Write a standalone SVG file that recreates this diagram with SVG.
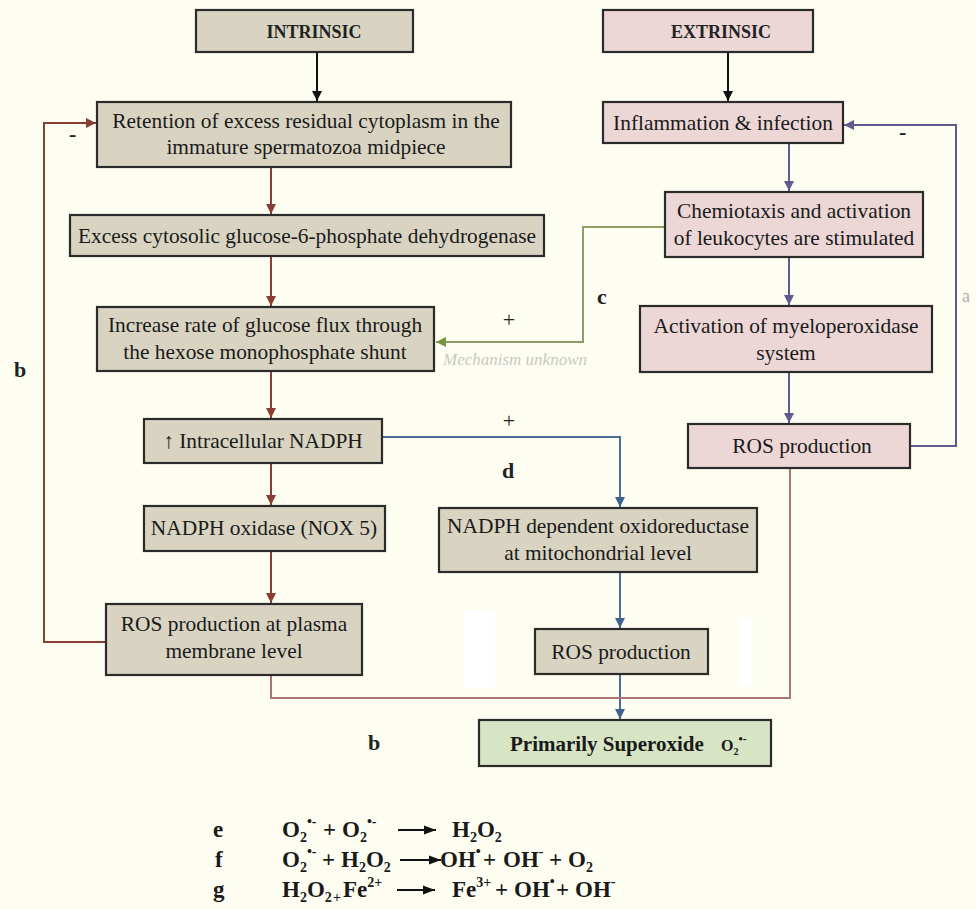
<svg xmlns="http://www.w3.org/2000/svg" width="976" height="909" viewBox="0 0 976 909">
<style>
.bg{fill:#fefdf1}
.box{stroke:#2b2b2b;stroke-width:2.2}
.in{fill:#d8d4c1}
.ex{fill:#ecd6d6}
.gr{fill:#d7e5c5}
.t{font-family:"Liberation Serif","Times New Roman",serif;font-size:21.4px;fill:#1a1a1a;text-anchor:middle}
.h{font-family:"Liberation Serif","Times New Roman",serif;font-size:18px;font-weight:bold;fill:#222;text-anchor:middle}
.lb{font-family:"Liberation Serif","Times New Roman",serif;font-size:22px;font-weight:bold;fill:#222}
.pl{font-family:"Liberation Serif","Times New Roman",serif;font-size:22px;fill:#222;text-anchor:middle}
.eq{font-family:"Liberation Serif","Times New Roman",serif;font-size:23px;font-weight:bold;fill:#1a1a1a}
.s{font-size:14px}
.c{fill:none;stroke-width:2}
.k{stroke:#111}
.r{stroke:#8a3d34}
.p{stroke:#5f5b8e}
.b{stroke:#4b6d98}
.g{stroke:#8e9c66}
.m{stroke:#a97676}
</style>
<defs>
<marker id="ak" viewBox="0 0 10 10" refX="10" refY="5" markerWidth="10" markerHeight="10" markerUnits="userSpaceOnUse" orient="auto"><path d="M0,0L10,5L0,10z" fill="#111"/></marker>
<marker id="ar" viewBox="0 0 10 10" refX="10" refY="5" markerWidth="10" markerHeight="10" markerUnits="userSpaceOnUse" orient="auto"><path d="M0,0L10,5L0,10z" fill="#8a3d34"/></marker>
<marker id="ap" viewBox="0 0 10 10" refX="10" refY="5" markerWidth="10" markerHeight="10" markerUnits="userSpaceOnUse" orient="auto"><path d="M0,0L10,5L0,10z" fill="#5f5b8e"/></marker>
<marker id="ab" viewBox="0 0 10 10" refX="10" refY="5" markerWidth="10" markerHeight="10" markerUnits="userSpaceOnUse" orient="auto"><path d="M0,0L10,5L0,10z" fill="#3f6290"/></marker>
<marker id="ag" viewBox="0 0 10 10" refX="10" refY="5" markerWidth="10" markerHeight="10" markerUnits="userSpaceOnUse" orient="auto"><path d="M0,0L10,5L0,10z" fill="#7c9442"/></marker>
<marker id="aq" viewBox="0 0 12 10" refX="12" refY="5" markerWidth="12" markerHeight="10" markerUnits="userSpaceOnUse" orient="auto"><path d="M0,0.5L12,5L0,9.5z" fill="#111"/></marker>
</defs>
<rect class="bg" x="0" y="0" width="976" height="909"/>
<rect x="463" y="610" width="32" height="78" fill="#ffffff"/>
<rect x="740" y="618" width="13" height="68" fill="#ffffff"/>

<g id="connectors">
<path class="c k" d="M317,52V101" marker-end="url(#ak)"/>
<path class="c k" d="M728,52V101" marker-end="url(#ak)"/>
<path class="c r" d="M271,167V214" marker-end="url(#ar)"/>
<path class="c r" d="M271,256V306" marker-end="url(#ar)"/>
<path class="c r" d="M271,371V418" marker-end="url(#ar)"/>
<path class="c r" d="M271,463V505" marker-end="url(#ar)"/>
<path class="c r" d="M271,551V603" marker-end="url(#ar)"/>
<path class="c r" d="M106,642H44V123H96" marker-end="url(#ar)"/>
<path class="c p" d="M789,143V191" marker-end="url(#ap)"/>
<path class="c p" d="M789,257V305" marker-end="url(#ap)"/>
<path class="c p" d="M789,372V423" marker-end="url(#ap)"/>
<path class="c p" d="M910,446H956V125H844" marker-end="url(#ap)"/>
<path class="c g" d="M665,227H583V342H436" marker-end="url(#ag)"/>
<path class="c b" d="M382,437H620V507" marker-end="url(#ab)"/>
<path class="c b" d="M620,572V628" marker-end="url(#ab)"/>
<path class="c b" d="M620,674V719" marker-end="url(#ab)"/>
<path class="c m" d="M271,675V698H790V468"/>
</g>

<g id="intrinsic"><rect class="box in" x="196" y="10" width="217" height="42"/><text class="h" x="314" y="38">INTRINSIC</text></g>
<g id="extrinsic"><rect class="box ex" x="603" y="10" width="210" height="42"/><text class="h" x="721" y="38">EXTRINSIC</text></g>
<g id="retention"><rect class="box in" x="97" y="102" width="414" height="65"/><text class="t" x="306" y="128">Retention of excess residual cytoplasm in the</text><text class="t" x="306" y="154">immature spermatozoa midpiece</text></g>
<g id="excess"><rect class="box in" x="70" y="215" width="474" height="41"/><text class="t" x="307" y="243">Excess cytosolic glucose-6-phosphate dehydrogenase</text></g>
<g id="increase"><rect class="box in" x="97" y="307" width="337" height="64"/><text class="t" x="265" y="332">Increase rate of glucose flux through</text><text class="t" x="265" y="359">the hexose monophosphate shunt</text></g>
<g id="nadph"><rect class="box in" x="144" y="419" width="238" height="44"/><text class="t" x="263" y="448">↑ Intracellular NADPH</text></g>
<g id="nox"><rect class="box in" x="144" y="506" width="241" height="45"/><text class="t" x="264" y="535">NADPH oxidase (NOX 5)</text></g>
<g id="ros-plasma"><rect class="box in" x="106" y="604" width="256" height="71"/><text class="t" x="234" y="631">ROS production at plasma</text><text class="t" x="234" y="658">membrane level</text></g>
<g id="nadph-dep"><rect class="box in" x="439" y="508" width="318" height="64"/><text class="t" x="598" y="533">NADPH dependent oxidoreductase</text><text class="t" x="598" y="560">at mitochondrial level</text></g>
<g id="ros-mito"><rect class="box in" x="535" y="629" width="173" height="45"/><text class="t" x="621" y="659">ROS production</text></g>
<g id="superoxide"><rect class="box gr" x="479" y="720" width="292" height="46"/><text x="510" y="751" style="font-family:'Liberation Serif',serif;font-size:21px;font-weight:bold;fill:#1a1a1a">Primarily Superoxide</text><text x="721" y="751" style="font-family:'Liberation Serif',serif;font-size:16px;font-weight:bold;fill:#1a1a1a">O<tspan font-size="10" dy="4">2</tspan><tspan font-size="12" dy="-12">•-</tspan></text></g>
<g id="inflammation"><rect class="box ex" x="603" y="102" width="240" height="41"/><text class="t" x="723" y="130">Inflammation &amp; infection</text></g>
<g id="chemiotaxis"><rect class="box ex" x="665" y="192" width="258" height="65"/><text class="t" x="794" y="218">Chemiotaxis and activation</text><text class="t" x="794" y="245">of leukocytes are stimulated</text></g>
<g id="myelo"><rect class="box ex" x="640" y="306" width="292" height="66"/><text class="t" x="786" y="333">Activation of myeloperoxidase</text><text class="t" x="786" y="360">system</text></g>
<g id="ros-ext"><rect class="box ex" x="688" y="424" width="222" height="44"/><text class="t" x="802" y="453">ROS production</text></g>

<g id="labels">
<text class="lb" x="14" y="377">b</text>
<text class="lb" x="368" y="750">b</text>
<text class="lb" x="597" y="304">c</text>
<text class="lb" x="502" y="478">d</text>
<text class="pl" x="509" y="327">+</text>
<text class="pl" x="509" y="428">+</text>
<text class="lb" x="69" y="141">-</text>
<text class="lb" x="899" y="139">-</text>
<text x="443" y="365" style="font-family:'Liberation Serif',serif;font-size:17px;font-style:italic;fill:#c9c9c6">Mechanism unknown</text>
<text x="962" y="302" style="font-family:'Liberation Serif',serif;font-size:18px;fill:#b0b0b0">a</text>
</g>

<g id="equations">
<text class="eq" x="213" y="837">e</text>
<text class="eq" y="837"><tspan x="282">O</tspan><tspan class="s" dy="5">2</tspan><tspan class="s" dy="-16">•-</tspan><tspan x="323" dy="11">+</tspan><tspan x="342">O</tspan><tspan class="s" dy="5">2</tspan><tspan class="s" dy="-16">•-</tspan><tspan x="452" dy="11">H</tspan><tspan class="s" dy="5">2</tspan><tspan dy="-5">O</tspan><tspan class="s" dy="5">2</tspan></text>
<path d="M398,830H436" stroke="#111" stroke-width="2" marker-end="url(#aq)"/>

<text class="eq" x="215" y="867">f</text>
<text class="eq" y="867"><tspan x="282">O</tspan><tspan class="s" dy="5">2</tspan><tspan class="s" dy="-16">•-</tspan><tspan x="322" dy="11">+</tspan><tspan x="341">H</tspan><tspan class="s" dy="5">2</tspan><tspan dy="-5">O</tspan><tspan class="s" dy="5">2</tspan><tspan x="440" dy="-5">OH</tspan><tspan class="s" dy="-11">•</tspan><tspan x="483" dy="11">+</tspan><tspan x="503">OH</tspan><tspan class="s" dy="-11">-</tspan><tspan x="549" dy="11">+</tspan><tspan x="568">O</tspan><tspan class="s" dy="5">2</tspan></text>
<path d="M400,860H441" stroke="#111" stroke-width="2" marker-end="url(#aq)"/>

<text class="eq" x="213" y="897">g</text>
<text class="eq" y="897"><tspan x="282">H</tspan><tspan class="s" dy="5">2</tspan><tspan dy="-5">O</tspan><tspan class="s" dy="5">2</tspan><tspan class="s" x="333">+</tspan><tspan x="343" dy="-5">Fe</tspan><tspan class="s" dy="-10">2+</tspan><tspan x="452" dy="10">Fe</tspan><tspan class="s" dy="-10">3+</tspan><tspan x="495" dy="10">+</tspan><tspan x="514">OH</tspan><tspan class="s" dy="-11">•</tspan><tspan x="556" dy="11">+</tspan><tspan x="575">OH</tspan><tspan class="s" dy="-11">-</tspan></text>
<path d="M397,890H435" stroke="#111" stroke-width="2" marker-end="url(#aq)"/>
</g>
</svg>
